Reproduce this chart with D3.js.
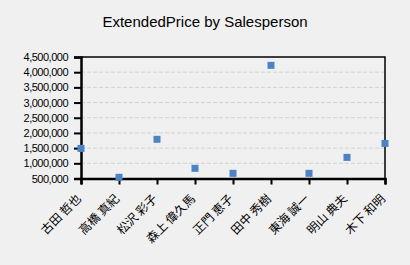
<!DOCTYPE html>
<html>
<head>
<meta charset="utf-8">
<script src="https://cdn.jsdelivr.net/npm/d3@7"></script>
<style>
  body { margin: 0; background: #f0f0f0; }
  svg { display: block; }
</style>
</head>
<body>
<svg id="chart" width="410" height="265"></svg>
<script>
// chart data
let salespeople = ['古田 哲也', '高橋 真紀', '松沢 彩子', '森上 偉久馬', '正門 恵子',
                   '田中 秀樹', '東海 誠一', '明山 典夫', '木下 和明']
let extendedPrice = [1490000, 540000, 1790000, 835000, 670000,
                     4225000, 670000, 1195000, 1655000]
let yTicks = [500000, 1000000, 1500000, 2000000, 2500000, 3000000, 3500000, 4000000, 4500000]
let title = 'ExtendedPrice by Salesperson'

let svg = d3.select('#chart')
let plotLeft = 81, plotRight = 385, plotTop = 57, plotBottom = 178.5

let x = d3.scalePoint().domain(salespeople).range([plotLeft, plotRight])
let y = d3.scaleLinear().domain([500000, 4500000]).range([plotBottom, plotTop])

// title
svg.append('text')
    .attr('x', 205).attr('y', 27)
    .attr('text-anchor', 'middle')
    .style('font-family', 'Liberation Sans, Arial, sans-serif')
    .style('font-size', '15px')
    .text(title)

// dashed grid
svg.append('g')
    .selectAll('line')
    .data(yTicks.slice(1, -1))
    .enter()
    .append('line')
    .attr('x1', plotLeft).attr('x2', plotRight)
    .attr('y1', d => y(d)).attr('y2', d => y(d))
    .attr('stroke', '#d2d2d2')
    .attr('stroke-dasharray', '4,2')

// frame: thin top/right
svg.append('path')
    .attr('d', `M${plotLeft},${plotTop}H${plotRight}V${plotBottom}`)
    .attr('fill', 'none')
    .attr('stroke', '#000')
    .attr('stroke-width', 1.5)

// y axis
let yAxis = svg.append('g')
    .attr('transform', `translate(${plotLeft},0)`)
    .call(d3.axisLeft(y).tickValues(yTicks).tickSize(7).tickPadding(6).tickFormat(d3.format(',')))
yAxis.select('.domain').attr('stroke-width', 2.5)
yAxis.selectAll('.tick line').attr('stroke-width', 2)
yAxis.selectAll('text')
    .style('font-family', 'Liberation Sans, Arial, sans-serif')
    .style('font-size', '11px')
    .style('letter-spacing', '-0.5px')
    .attr('fill', '#000')

// x axis
let xAxis = svg.append('g')
    .attr('transform', `translate(0,${plotBottom})`)
    .call(d3.axisBottom(x).tickSize(6).tickFormat(''))
xAxis.select('.domain').attr('stroke-width', 2.5)
xAxis.selectAll('.tick line').attr('stroke-width', 2)

// rotated labels
svg.append('g')
    .selectAll('text')
    .data(salespeople)
    .enter()
    .append('text')
    .attr('transform', d => `translate(${x(d) - 5},${plotBottom + 15}) rotate(-45)`)
    .attr('text-anchor', 'end')
    .attr('dy', '0.7em')
    .style('font-family', '"Noto Sans CJK JP", sans-serif')
    .style('font-size', '12px')
    .text(d => d)

// markers
svg.append('g')
    .selectAll('rect')
    .data(salespeople)
    .enter()
    .append('rect')
    .attr('x', (d, i) => x(d) - 3.5)
    .attr('y', (d, i) => y(extendedPrice[i]) - 3.5)
    .attr('width', 7)
    .attr('height', 7)
    .attr('fill', '#4a84c4')
</script>
</body>
</html>
